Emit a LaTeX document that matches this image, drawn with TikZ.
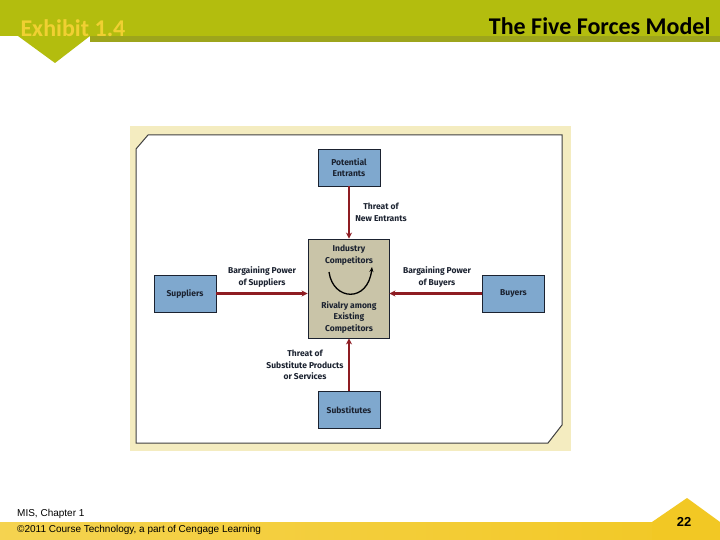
\documentclass[tikz,border=0pt]{standalone}
\usepackage{fontspec}
\setmainfont{Liberation Sans}
\newfontfamily\slidefont{Carlito}
\newfontfamily\boxfont{Fira Sans}
\usetikzlibrary{arrows.meta,positioning,calc}
\definecolor{FFOlive}{HTML}{B3BD0E}
\definecolor{FFOliveDark}{HTML}{9DA51C}
\definecolor{FFGold}{HTML}{F0D032}
\definecolor{FFBand}{HTML}{F2C824}
\definecolor{FFFrame}{HTML}{F4ECC0}
\definecolor{FFBlue}{HTML}{7FA8CE}
\definecolor{FFCore}{HTML}{C9C4A8}
\definecolor{FFRed}{HTML}{8E1C22}
\definecolor{FFInk}{HTML}{1B2230}

\begin{document}
\begin{tikzpicture}[x=1pt,y=-1pt,
    forcebox/.style={draw=FFInk, line width=0.9pt, fill=FFBlue, minimum width=62pt,
      minimum height=37pt, inner sep=0pt, align=center, text=FFInk,
      font=\boxfont\bfseries\fontsize{8.5}{11.5}\selectfont},
    forcelabel/.style={align=center, text=FFInk, inner sep=0pt,
      font=\boxfont\bfseries\fontsize{8.5}{11.5}\selectfont},
    forcearrow/.style={draw=FFRed, line width=2.6pt, -{Stealth[length=6pt,width=6pt]}}]
    \useasboundingbox (0,0) rectangle (720,540);
    \fill[white] (0,0) rectangle (720,540);
    % header
    \fill[FFOlive] (0,0) rectangle (720,36);
    \fill[FFOliveDark] (90,36) rectangle (720,42);
    \fill[FFOlive] (18,36) -- (90,36) -- (55,63) -- cycle;
    \node[text=FFGold, font=\slidefont\bfseries\fontsize{24}{26}\selectfont, anchor=west]
      (exhibit) at (17,28) {Exhibit 1.4};
    \node[text=black, font=\slidefont\bfseries\fontsize{24}{26}\selectfont, anchor=east]
      (title) at (714,26) {The Five Forces Model};

    % frame
    \fill[FFFrame] (130,126) rectangle (571,451);
    \fill[white] (148,135) -- (562,135) -- (562,425) -- (548,443) -- (136,443) -- (136,149) -- cycle;
    \draw[black!75, line width=1pt] (148,135) -- (562,135) -- (562,425) -- (548,443) -- (136,443) -- (136,149) -- cycle;

    % forces
    \node[forcebox] (entrants) at (349,167.5) {Potential\\Entrants};
    \node[forcebox] (suppliers) at (185,293.5) {Suppliers};
    \node[forcebox] (buyers) at (513.5,293.5) {Buyers};
    \node[forcebox] (substitutes) at (349,410) {Substitutes};
    \node[forcebox, fill=FFCore, minimum width=81pt, minimum height=99pt] (rivalry) at (348.5,288.5) {};
    \node[forcelabel] (industry) at (349,255) {Industry\\Competitors};
    \node[forcelabel] (existing) at (349,317) {Rivalry among\\Existing\\Competitors};
    \draw[line width=1.3pt, -{Stealth[length=5pt,width=4pt]}]
      (329,272) .. controls (333,301) and (368,303) .. (372,267);

    \draw[forcearrow] (entrants) -- (entrants |- rivalry.north);
    \draw[forcearrow] (suppliers) -- (suppliers -| rivalry.west);
    \draw[forcearrow] (buyers) -- (buyers -| rivalry.east);
    \draw[forcearrow] (substitutes) -- (substitutes |- rivalry.south);

    \node[forcelabel] (newthreat) at (381,212.5) {Threat of\\New Entrants};
    \node[forcelabel] (supplierpower) at (262,277) {Bargaining Power\\of Suppliers};
    \node[forcelabel] (buyerpower) at (437,277) {Bargaining Power\\of Buyers};
    \node[forcelabel] (subthreat) at (305,365) {Threat of\\Substitute Products\\or Services};

    % footer
    \shade[left color=FFBand!80!white, right color=FFBand] (0,522) rectangle (720,540);
    \fill[FFBand] (652,522) -- (687,498) -- (720,522) -- (720,540) -- (652,540) -- cycle;
    \node[anchor=west, font=\fontsize{10}{12}\selectfont, inner sep=0pt] (chapter) at (17,514) {MIS, Chapter 1};
    \node[anchor=west, font=\fontsize{10}{12}\selectfont, inner sep=0pt] (copyright) at (17,530)
      {\textcopyright 2011 Course Technology, a part of Cengage Learning};
    \node[font=\bfseries\fontsize{13}{15}\selectfont, inner sep=0pt] (page) at (684,522) {22};
  \end{tikzpicture}
\end{document}
